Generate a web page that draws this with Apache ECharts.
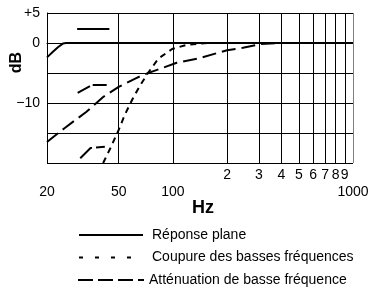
<!DOCTYPE html>
<html>
<head>
<meta charset="utf-8">
<script src="https://cdn.jsdelivr.net/npm/echarts@6/dist/echarts.min.js"></script>
<style>
  html, body { margin: 0; padding: 0; background: #fff; }
  #chart { width: 381px; height: 288px; }
</style>
</head>
<body>
<div id="chart"></div>
<script>
// réponse en fréquence (Hz, dB)
const flatFreq = [20, 21.5, 23, 24.5, 25.5, 1000]
const flatDb = [-2.4, -1.5, -0.7, -0.1, 0, 0]
const cutFreq = [41, 45, 50, 54, 60, 66, 72, 83, 99, 120, 155]
const cutDb = [-20, -17.5, -14.5, -12, -9.2, -7, -5.2, -2.6, -1, -0.3, 0]
const attFreq = [20, 25, 33, 41, 50, 63, 70, 105, 142, 200, 245, 304, 392]
const attDb = [-16.5, -14.2, -11.5, -9, -7.3, -5.8, -5.2, -3.3, -2.5, -1.2, -0.8, -0.2, 0]

// petits pictogrammes dans le graphique
const iconFlatFreq = [29.4, 44.4]
const iconFlatDb = [2.33, 2.33]
const iconAttFreq = [29.6, 35.6, 43.6]
const iconAttDb = [-8.3, -7, -7]
const iconCutFreq = [30.6, 34.9, 41.9]
const iconCutDb = [-19.2, -17.5, -17.3]

// grille et graduations
const gridFreqs = [50, 100, 200, 300, 400, 500, 600, 700, 800, 900, 1000]
const lowTicks = [20, 50, 100, 1000]
const lowLabels = ['20', '50', '100', '1000']
const highTicks = [200, 300, 400, 500, 600, 700, 800, 900]
const highLabels = ['2', '3', '4', '5', '6', '7', '8', '9']
const yLabels = { 5: '+5', 0: '0', '-10': '\u221210' }

const names = ['Réponse plane', 'Coupure des basses fréquences', 'Atténuation de basse fréquence']
const legendDash = ['solid', [4, 12], [15, 5]]
const FONT = 'Liberation Sans, Arial, sans-serif'
const CLEAR = 'rgba(0,0,0,0)'

const zip = (xs, ys) => xs.map((x, i) => [x, ys[i]])

const chart = echarts.init(document.getElementById('chart'))

const markData = []
gridFreqs.forEach(f => {
  markData.push({
    xAxis: f,
    lineStyle: { color: f === 1000 ? '#808080' : '#000' },
    label: { show: false },
  })
})
lowTicks.forEach((f, i) => {
  markData.push({
    xAxis: f,
    lineStyle: { color: CLEAR },
    label: { show: true, formatter: lowLabels[i], distance: 22, color: '#000' },
  })
})
highTicks.forEach((f, i) => {
  markData.push({
    xAxis: f,
    lineStyle: { color: CLEAR },
    label: { show: true, formatter: highLabels[i], distance: 5, color: '#000' },
  })
})

// une légende par ligne pour placer chaque rangée
const legends = names.map((name, i) => ({
  data: [{ name, lineStyle: { type: legendDash[i] } }],
  left: i === 2 ? 77 : 78,
  top: 228 + i * 22.5,
  padding: 0,
  itemWidth: i === 2 ? 66 : 64, itemHeight: 12,
  itemStyle: { opacity: 0 },
  textStyle: { fontSize: 14, color: '#000', fontFamily: FONT, padding: [0, 0, 0, i === 2 ? 0 : 4] },
}))

const lineSeries = (name, data, type, width) => ({
  name, type: 'line', data, symbol: 'none', silent: true,
  itemStyle: { color: '#000' },
  lineStyle: { color: '#000', width, type },
})

chart.setOption({
  animation: false,
  textStyle: { fontFamily: FONT },
  grid: { left: 47, right: 28, top: 13, bottom: 125 },
  legend: legends,
  graphic: [
    { type: 'text', left: 9, top: 52, rotation: Math.PI / 2,
      style: { text: 'dB', font: 'bold 16px ' + FONT, fill: '#000' } },
    { type: 'text', left: 192, top: 199,
      style: { text: 'Hz', font: 'bold 18px ' + FONT, fill: '#000' } },
  ],
  xAxis: {
    type: 'log', logBase: 10, min: 20, max: 1000,
    axisLine: { show: true, lineStyle: { color: '#000', width: 1 } },
    axisTick: { show: false },
    axisLabel: { show: false },
    splitLine: { show: false },
  },
  yAxis: {
    type: 'value', min: -20, max: 5, interval: 5,
    axisLine: { show: true, lineStyle: { color: '#000', width: 1 } },
    axisTick: { show: false },
    axisLabel: {
      fontSize: 14, color: '#000', margin: 7,
      formatter: v => yLabels[v] || '',
    },
    splitLine: { show: true, lineStyle: { color: '#000', width: 1 } },
  },
  series: [
    {
      name: 'grille', type: 'line', data: [], silent: true,
      markLine: {
        silent: true, animation: false, symbol: ['none', 'none'],
        lineStyle: { color: '#000', width: 1, type: 'solid' },
        label: { position: 'start', fontSize: 14, color: '#000', fontFamily: FONT },
        data: markData,
      },
    },
    lineSeries(names[0], zip(flatFreq, flatDb), 'solid', 2),
    lineSeries(names[1], zip(cutFreq, cutDb), [6, 5], 2),
    lineSeries(names[2], zip(attFreq, attDb), [14, 6], 2),
    lineSeries('icon1', zip(iconFlatFreq, iconFlatDb), 'solid', 2),
    lineSeries('icon2', zip(iconAttFreq, iconAttDb), [14, 3], 2),
    lineSeries('icon3', zip(iconCutFreq, iconCutDb), [16, 4], 2),
  ],
})
</script>
</body>
</html>
